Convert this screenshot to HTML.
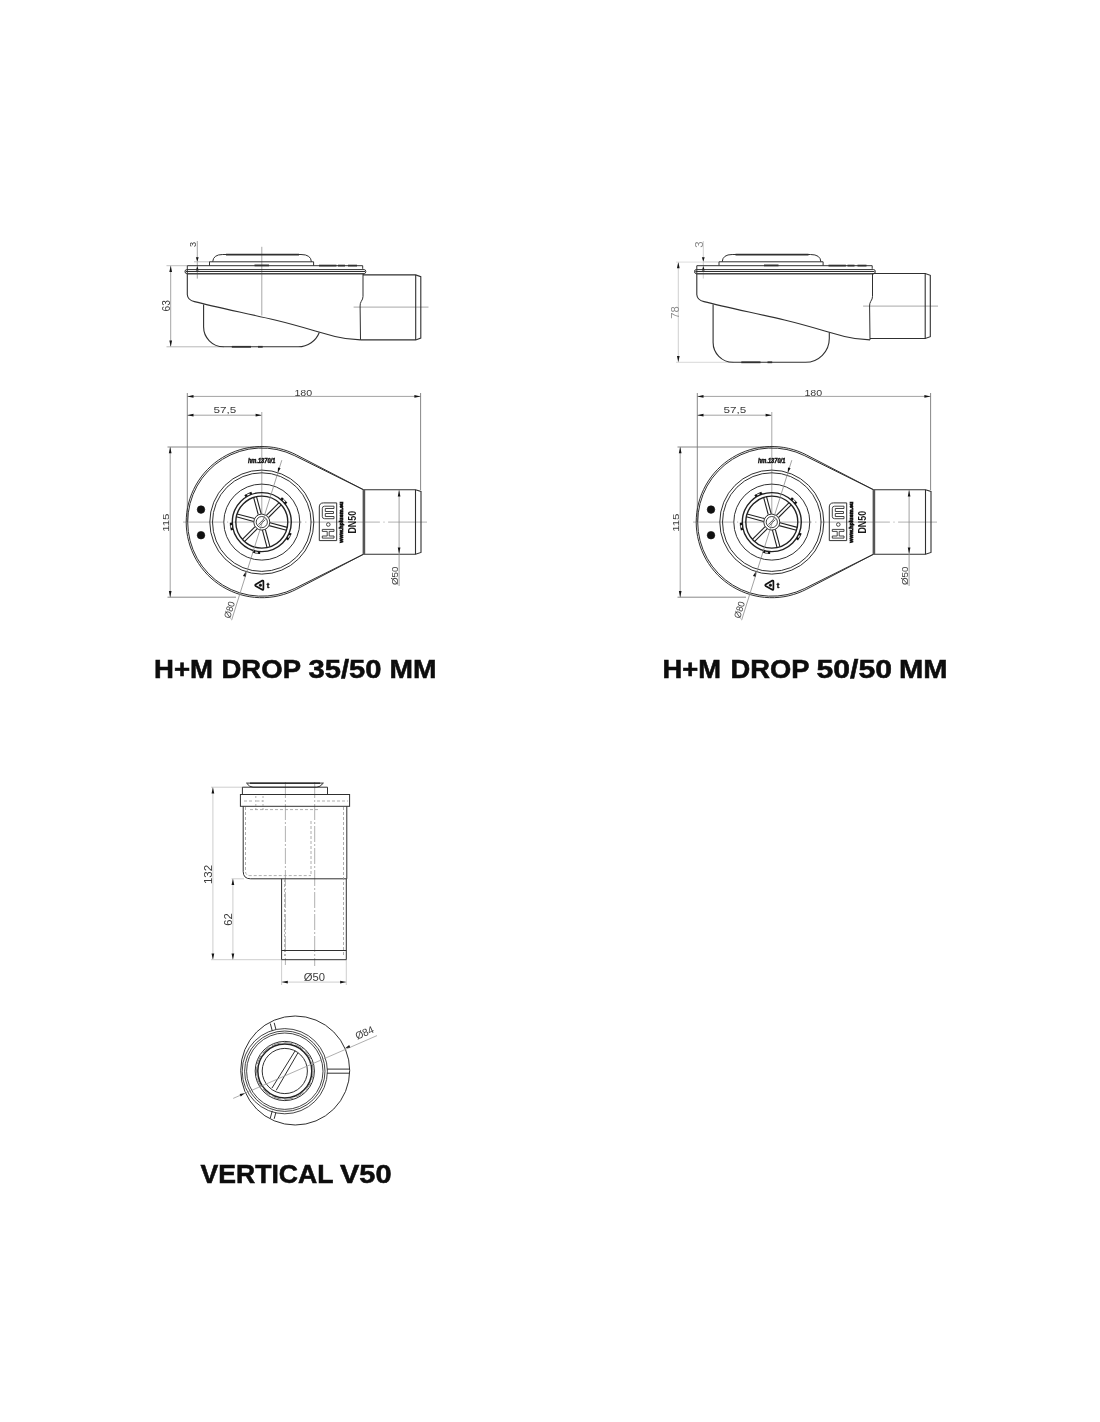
<!DOCTYPE html>
<html><head><meta charset="utf-8"><title>H+M Drop</title>
<style>html,body{margin:0;padding:0;background:#fff;} svg{display:block;filter:grayscale(1);}</style></head>
<body><svg width="1100" height="1422" viewBox="0 0 1100 1422">
<rect width="1100" height="1422" fill="#fff"/>
<line x1="170.70" y1="265.70" x2="170.70" y2="346.80" stroke="#8e8e8e" stroke-width="0.8"/>
<path d="M170.70,265.70 L172.05,271.90 L169.35,271.90Z" fill="#151515" stroke="none"/>
<path d="M170.70,346.80 L169.35,340.60 L172.05,340.60Z" fill="#151515" stroke="none"/>
<line x1="166.50" y1="265.70" x2="187.00" y2="265.70" stroke="#b0b0b0" stroke-width="0.8"/>
<line x1="166.50" y1="346.80" x2="224.00" y2="346.80" stroke="#b0b0b0" stroke-width="0.9"/>
<text x="169.70" y="305.85" font-family='"Liberation Sans", sans-serif' font-size="10.205999999999953" font-weight="normal" font-style="normal" fill="#3c3c3c" text-anchor="middle" transform="rotate(-90 169.70 305.85)">63</text>
<line x1="197.30" y1="241.00" x2="197.30" y2="278.60" stroke="#8e8e8e" stroke-width="0.8"/>
<path d="M197.30,261.80 L195.90,257.30 L198.70,257.30Z" fill="#151515" stroke="none"/>
<path d="M197.30,265.90 L198.70,270.40 L195.90,270.40Z" fill="#151515" stroke="none"/>
<line x1="194.00" y1="261.80" x2="210.00" y2="261.80" stroke="#b0b0b0" stroke-width="0.8"/>
<text x="196.45" y="244.55" font-family='"Liberation Sans", sans-serif' font-size="9.117585937499937" font-weight="normal" font-style="normal" fill="#3c3c3c" text-anchor="middle" transform="rotate(-90 196.45 244.55)">3</text>
<line x1="261.80" y1="246.80" x2="261.80" y2="315.50" stroke="#a8a8a8" stroke-width="1.0"/>
<line x1="353.60" y1="307.10" x2="428.50" y2="307.10" stroke="#a8a8a8" stroke-width="1.0"/>
<path d="M187.3,274 V265.7 H362.7 V268.8" stroke="#303030" stroke-width="1.0" fill="none" />
<path d="M186.8,269.6 H364.2" stroke="#303030" stroke-width="1.0" fill="none" />
<path d="M185.8,271.5 H365" stroke="#303030" stroke-width="1.2" fill="none" />
<path d="M186.8,273.7 H364.2" stroke="#444" stroke-width="1.5" fill="none" />
<path d="M186.8,269.6 Q185,269.6 185,271.5 Q185,273.6 186.8,273.6" stroke="#303030" stroke-width="1.0" fill="none" />
<path d="M364.2,269.6 Q365.8,269.6 365.8,271.5 Q365.8,273.6 364.2,273.6" stroke="#303030" stroke-width="1.0" fill="none" />
<path d="M209.5,265.7 V261.8 H313.6 V265.7" stroke="#303030" stroke-width="1.0" fill="none" />
<path d="M212.7,261.8 Q213.2,254.5 222.7,254.5 H301 Q311,254.5 311.4,261.8" stroke="#303030" stroke-width="1.0" fill="none" />
<line x1="226.00" y1="254.60" x2="299.00" y2="254.60" stroke="#303030" stroke-width="1.8"/>
<line x1="319.00" y1="265.60" x2="336.40" y2="265.60" stroke="#303030" stroke-width="1.8"/>
<line x1="338.00" y1="265.60" x2="345.00" y2="265.60" stroke="#303030" stroke-width="1.8"/>
<line x1="348.00" y1="265.60" x2="357.00" y2="265.60" stroke="#303030" stroke-width="1.8"/>
<line x1="254.50" y1="265.40" x2="269.00" y2="265.40" stroke="#303030" stroke-width="1.8"/>
<path d="M187.3,274 V294.5 Q187.6,300.2 194.5,301.6 C215,307 245,313 275,320 C300,326 318,332 335,336.5 C345,339 352,339.8 360.5,339.9" stroke="#303030" stroke-width="1.1" fill="none" />
<path d="M203.6,304.4 V326.4 A20,20 0 0 0 223.6,346.8 H298.2 C308,346.8 316,340.8 319.3,332.5" stroke="#303030" stroke-width="1.1" fill="none" />
<line x1="231.80" y1="346.80" x2="251.00" y2="346.80" stroke="#303030" stroke-width="1.8"/>
<line x1="258.00" y1="346.80" x2="262.70" y2="346.80" stroke="#303030" stroke-width="1.8"/>
<path d="M363,274 V296.4 Q363,299 361.2,301.5 Q360,303.5 360.1,306 L360.5,339.9" stroke="#303030" stroke-width="1.0" fill="none" />
<path d="M363,274.9 H415.7 L420.8,276.7 V338.09999999999997 L415.7,339.9 H360.5" stroke="#303030" stroke-width="1.1" fill="none" />
<line x1="415.70" y1="274.90" x2="415.70" y2="339.90" stroke="#303030" stroke-width="1.1"/>
<line x1="678.30" y1="262.10" x2="678.30" y2="362.30" stroke="#c4c4c4" stroke-width="0.8"/>
<path d="M678.30,262.10 L679.65,268.30 L676.95,268.30Z" fill="#151515" stroke="none"/>
<path d="M678.30,362.30 L676.95,356.10 L679.65,356.10Z" fill="#151515" stroke="none"/>
<line x1="676.00" y1="262.10" x2="719.00" y2="262.10" stroke="#d4d4d4" stroke-width="0.8"/>
<line x1="676.00" y1="362.30" x2="733.50" y2="362.30" stroke="#d4d4d4" stroke-width="0.9"/>
<text x="678.60" y="312.50" font-family='"Liberation Sans", sans-serif' font-size="11.307351562500187" font-weight="normal" font-style="normal" fill="#8a8a8a" text-anchor="middle" transform="rotate(-90 678.60 312.50)">78</text>
<line x1="703.30" y1="241.00" x2="703.30" y2="278.60" stroke="#c4c4c4" stroke-width="0.8"/>
<path d="M703.30,261.80 L701.90,257.30 L704.70,257.30Z" fill="#151515" stroke="none"/>
<path d="M703.30,265.90 L704.70,270.40 L701.90,270.40Z" fill="#151515" stroke="none"/>
<line x1="703.50" y1="261.80" x2="719.50" y2="261.80" stroke="#d4d4d4" stroke-width="0.8"/>
<text x="702.90" y="244.60" font-family='"Liberation Sans", sans-serif' font-size="11.486833333333523" font-weight="normal" font-style="normal" fill="#8a8a8a" text-anchor="middle" transform="rotate(-90 702.90 244.60)">3</text>
<line x1="863.10" y1="306.10" x2="938.00" y2="306.10" stroke="#a8a8a8" stroke-width="1.0"/>
<path d="M696.8,274 V265.7 H872.2 V268.8" stroke="#303030" stroke-width="1.0" fill="none" />
<path d="M696.3,269.6 H873.7" stroke="#303030" stroke-width="1.0" fill="none" />
<path d="M695.3,271.5 H874.5" stroke="#303030" stroke-width="1.2" fill="none" />
<path d="M696.3,273.7 H873.7" stroke="#444" stroke-width="1.5" fill="none" />
<path d="M696.3,269.6 Q694.5,269.6 694.5,271.5 Q694.5,273.6 696.3,273.6" stroke="#303030" stroke-width="1.0" fill="none" />
<path d="M873.7,269.6 Q875.3,269.6 875.3,271.5 Q875.3,273.6 873.7,273.6" stroke="#303030" stroke-width="1.0" fill="none" />
<path d="M719.0,265.7 V261.8 H823.1 V265.7" stroke="#303030" stroke-width="1.0" fill="none" />
<path d="M722.2,261.8 Q722.7,254.5 732.2,254.5 H810.5 Q820.5,254.5 820.9,261.8" stroke="#303030" stroke-width="1.0" fill="none" />
<line x1="735.50" y1="254.60" x2="808.50" y2="254.60" stroke="#303030" stroke-width="1.8"/>
<line x1="828.50" y1="265.60" x2="845.90" y2="265.60" stroke="#303030" stroke-width="1.8"/>
<line x1="847.50" y1="265.60" x2="854.50" y2="265.60" stroke="#303030" stroke-width="1.8"/>
<line x1="857.50" y1="265.60" x2="866.50" y2="265.60" stroke="#303030" stroke-width="1.8"/>
<line x1="764.00" y1="265.40" x2="778.50" y2="265.40" stroke="#303030" stroke-width="1.8"/>
<path d="M696.8,274 V294.5 Q697.1,300.2 704.0,301.6 C724.5,307 754.5,313 784.5,320 C809.5,326 827.5,332 844.5,336.5 C854.5,339 861.5,339.8 870.0,339.9" stroke="#303030" stroke-width="1.1" fill="none" />
<path d="M713.1,304.4 V341.9 A20,20 0 0 0 733.1,362.3 H805.5 A23.8,23.8 0 0 0 829.3,338.5 V332.5" stroke="#303030" stroke-width="1.1" fill="none" />
<line x1="741.30" y1="362.30" x2="760.50" y2="362.30" stroke="#303030" stroke-width="1.8"/>
<line x1="767.50" y1="362.30" x2="772.20" y2="362.30" stroke="#303030" stroke-width="1.8"/>
<path d="M872.5,274 V296.4 Q872.5,299 870.7,301.5 Q869.5,303.5 869.6,306 L870.0,339.9" stroke="#303030" stroke-width="1.0" fill="none" />
<path d="M872.5,273.5 H925.2 L930.3,275.3 V336.7 L925.2,338.5 H870.0" stroke="#303030" stroke-width="1.1" fill="none" />
<line x1="925.20" y1="273.50" x2="925.20" y2="338.50" stroke="#303030" stroke-width="1.1"/>
<line x1="187.30" y1="393.00" x2="187.30" y2="522.00" stroke="#7a7a7a" stroke-width="0.9"/>
<line x1="420.60" y1="393.00" x2="420.60" y2="490.00" stroke="#7a7a7a" stroke-width="0.9"/>
<line x1="187.30" y1="396.40" x2="420.60" y2="396.40" stroke="#8a8a8a" stroke-width="0.8"/>
<path d="M187.30,396.40 L193.50,395.05 L193.50,397.75Z" fill="#151515" stroke="none"/>
<path d="M420.60,396.40 L414.40,397.75 L414.40,395.05Z" fill="#151515" stroke="none"/>
<text x="303.35" y="395.85" font-family='"Liberation Sans", sans-serif' font-size="9.984" font-weight="normal" font-style="normal" fill="#3c3c3c" text-anchor="middle" textLength="17.807238064236216" lengthAdjust="spacingAndGlyphs">180</text>
<line x1="187.30" y1="415.20" x2="261.80" y2="415.20" stroke="#8a8a8a" stroke-width="0.8"/>
<path d="M187.30,415.20 L193.50,413.85 L193.50,416.55Z" fill="#151515" stroke="none"/>
<path d="M261.80,415.20 L255.60,416.55 L255.60,413.85Z" fill="#151515" stroke="none"/>
<line x1="261.80" y1="412.00" x2="261.80" y2="515.00" stroke="#a8a8a8" stroke-width="1.0"/>
<text x="225.00" y="413.10" font-family='"Liberation Sans", sans-serif' font-size="9.984" font-weight="normal" font-style="normal" fill="#3c3c3c" text-anchor="middle" textLength="22.79456459330149" lengthAdjust="spacingAndGlyphs">57,5</text>
<line x1="167.50" y1="447.00" x2="261.80" y2="447.00" stroke="#7a7a7a" stroke-width="0.9"/>
<line x1="167.50" y1="597.20" x2="236.00" y2="597.20" stroke="#7a7a7a" stroke-width="0.9"/>
<line x1="170.20" y1="447.00" x2="170.20" y2="597.20" stroke="#8a8a8a" stroke-width="0.8"/>
<path d="M170.20,447.00 L171.55,453.20 L168.85,453.20Z" fill="#151515" stroke="none"/>
<path d="M170.20,597.20 L168.85,591.00 L171.55,591.00Z" fill="#151515" stroke="none"/>
<text x="169.40" y="522.70" font-family='"Liberation Sans", sans-serif' font-size="9.331199999999956" font-weight="normal" font-style="normal" fill="#3c3c3c" text-anchor="middle" transform="rotate(-90 169.40 522.70)" textLength="18.29180653594749" lengthAdjust="spacingAndGlyphs">115</text>
<line x1="183" y1="522.1" x2="427" y2="522.1" stroke="#a8a8a8" stroke-width="0.9" stroke-dasharray="70 3.5 1.2 3.5" stroke-dashoffset="29.5"/>
<path d="M363.60,489.80 L296.66,455.02 A75.6,75.6 0 1 0 296.82,589.10 L363.60,554.20" stroke="#303030" stroke-width="1.0" fill="none" />
<path d="M363.60,489.80 L294.67,455.69 A74.1,74.1 0 1 0 294.82,588.44 L363.60,554.20" stroke="#303030" stroke-width="1.0" fill="none" />
<circle cx="261.80" cy="522.10" r="52.00" stroke="#303030" stroke-width="1.0" fill="none"/>
<circle cx="261.80" cy="522.10" r="49.30" stroke="#303030" stroke-width="1.0" fill="none"/>
<circle cx="261.80" cy="522.10" r="38.00" stroke="#303030" stroke-width="1.0" fill="none"/>
<circle cx="261.80" cy="522.10" r="29.50" stroke="#222" stroke-width="1.4" fill="none"/>
<circle cx="261.80" cy="522.10" r="26.00" stroke="#222" stroke-width="1.4" fill="none"/>
<path d="M245.03,496.27 A30.8,30.8 0 0 1 247.10,495.03" stroke="#111" stroke-width="2.4" fill="none"/>
<path d="M249.52,493.85 A30.8,30.8 0 0 1 251.77,492.98" stroke="#111" stroke-width="2.4" fill="none"/>
<path d="M246.72,494.33 A31.6,31.6 0 0 1 249.20,493.12" stroke="#222" stroke-width="0.9" fill="none"/>
<path d="M281.18,498.16 A30.8,30.8 0 0 1 283.00,499.76" stroke="#111" stroke-width="2.4" fill="none"/>
<path d="M284.87,501.69 A30.8,30.8 0 0 1 286.40,503.56" stroke="#111" stroke-width="2.4" fill="none"/>
<path d="M283.55,499.18 A31.6,31.6 0 0 1 285.47,501.16" stroke="#222" stroke-width="0.9" fill="none"/>
<path d="M290.55,533.14 A30.8,30.8 0 0 1 289.60,535.36" stroke="#111" stroke-width="2.4" fill="none"/>
<path d="M288.34,537.73 A30.8,30.8 0 0 1 287.03,539.77" stroke="#111" stroke-width="2.4" fill="none"/>
<path d="M290.32,535.70 A31.6,31.6 0 0 1 289.03,538.14" stroke="#222" stroke-width="0.9" fill="none"/>
<path d="M260.19,552.86 A30.8,30.8 0 0 1 257.78,552.64" stroke="#111" stroke-width="2.4" fill="none"/>
<path d="M255.13,552.17 A30.8,30.8 0 0 1 252.79,551.55" stroke="#111" stroke-width="2.4" fill="none"/>
<path d="M257.68,553.43 A31.6,31.6 0 0 1 254.96,552.95" stroke="#222" stroke-width="0.9" fill="none"/>
<path d="M232.05,530.07 A30.8,30.8 0 0 1 231.52,527.71" stroke="#111" stroke-width="2.4" fill="none"/>
<path d="M231.14,525.05 A30.8,30.8 0 0 1 231.00,522.64" stroke="#111" stroke-width="2.4" fill="none"/>
<path d="M230.73,527.86 A31.6,31.6 0 0 1 230.35,525.13" stroke="#222" stroke-width="0.9" fill="none"/>
<line x1="253.68" y1="521.48" x2="236.30" y2="516.82" stroke="#222" stroke-width="1.1"/>
<line x1="254.46" y1="518.58" x2="237.07" y2="513.92" stroke="#222" stroke-width="1.1"/>
<line x1="258.28" y1="514.76" x2="253.62" y2="497.37" stroke="#222" stroke-width="1.1"/>
<line x1="261.18" y1="513.98" x2="256.52" y2="496.60" stroke="#222" stroke-width="1.1"/>
<line x1="266.40" y1="515.38" x2="279.12" y2="502.65" stroke="#222" stroke-width="1.1"/>
<line x1="268.52" y1="517.50" x2="281.25" y2="504.78" stroke="#222" stroke-width="1.1"/>
<line x1="269.92" y1="522.72" x2="287.30" y2="527.38" stroke="#222" stroke-width="1.1"/>
<line x1="269.14" y1="525.62" x2="286.53" y2="530.28" stroke="#222" stroke-width="1.1"/>
<line x1="265.32" y1="529.44" x2="269.98" y2="546.83" stroke="#222" stroke-width="1.1"/>
<line x1="262.42" y1="530.22" x2="267.08" y2="547.60" stroke="#222" stroke-width="1.1"/>
<line x1="257.20" y1="528.82" x2="244.48" y2="541.55" stroke="#222" stroke-width="1.1"/>
<line x1="255.08" y1="526.70" x2="242.35" y2="539.42" stroke="#222" stroke-width="1.1"/>
<circle cx="261.80" cy="522.10" r="8.00" stroke="#303030" stroke-width="1.0" fill="#fff"/>
<circle cx="261.80" cy="522.10" r="5.60" stroke="#303030" stroke-width="0.9" fill="none"/>
<line x1="258.30" y1="524.60" x2="264.30" y2="518.60" stroke="#303030" stroke-width="0.8"/>
<line x1="259.30" y1="525.60" x2="265.30" y2="519.60" stroke="#303030" stroke-width="0.8"/>
<circle cx="201.00" cy="509.60" r="3.80" stroke="#111" stroke-width="0.6" fill="#111"/>
<circle cx="201.00" cy="535.20" r="3.80" stroke="#111" stroke-width="0.6" fill="#111"/>
<line x1="231.60" y1="620.20" x2="281.80" y2="460.20" stroke="#8a8a8a" stroke-width="0.8"/>
<path d="M277.78,472.62 L277.99,467.43 L280.65,468.29Z" fill="#151515" stroke="none"/>
<path d="M245.82,571.58 L245.61,576.77 L242.95,575.91Z" fill="#151515" stroke="none"/>
<text x="232.55" y="610.80" font-family='"Liberation Sans", sans-serif' font-size="9.5" font-weight="normal" font-style="normal" fill="#3c3c3c" text-anchor="middle" transform="rotate(-72.1 232.55 610.80)" textLength="17.0" lengthAdjust="spacingAndGlyphs">&#216;80</text>
<text x="261.60" y="462.9" font-family='"Liberation Sans", sans-serif' font-size="6.6" font-weight="bold" font-style="italic" fill="#111" stroke="#111" stroke-width="0.45" text-anchor="middle" textLength="27.4" lengthAdjust="spacingAndGlyphs">hm.1370/1</text>
<path d="M255.60000000000002,584.4000000000001 Q254.8,585.2 255.60000000000002,586.0 L262.40000000000003,589.8000000000001 Q263.40000000000003,590.2 263.40000000000003,589.1 V581.3000000000001 Q263.40000000000003,580.2 262.40000000000003,580.6 Z" stroke="#111" stroke-width="1.7" fill="none" stroke-linejoin="round"/>
<circle cx="260.40" cy="585.20" r="1.30" stroke="#111" stroke-width="0.5" fill="#111"/>
<text x="267.90" y="588.00" font-family='"Liberation Sans", sans-serif' font-size="7.6" font-weight="bold" fill="#111" stroke="#111" stroke-width="0.4" text-anchor="middle">t</text>
<path d="M363.6,489.8 H415.5 L421,491.5 V552.4 L415.5,554.2 H363.6" stroke="#303030" stroke-width="1.1" fill="none" />
<line x1="415.50" y1="489.80" x2="415.50" y2="554.20" stroke="#303030" stroke-width="1.1"/>
<line x1="363.90" y1="489.80" x2="363.90" y2="554.20" stroke="#555" stroke-width="2.6"/>
<line x1="399.10" y1="490.00" x2="399.10" y2="586.00" stroke="#8a8a8a" stroke-width="0.8"/>
<path d="M399.10,490.20 L400.45,496.40 L397.75,496.40Z" fill="#151515" stroke="none"/>
<path d="M399.10,553.80 L397.75,547.60 L400.45,547.60Z" fill="#151515" stroke="none"/>
<text x="397.60" y="575.75" font-family='"Liberation Sans", sans-serif' font-size="8.708758017492755" font-weight="normal" font-style="normal" fill="#3c3c3c" text-anchor="middle" transform="rotate(-90 397.60 575.75)" textLength="18.487313907044296" lengthAdjust="spacingAndGlyphs">&#216;50</text>
<path d="M336.7,502.9 H323.5 Q319.3,502.9 319.3,507 V540.6 H336.7 Z" stroke="#333" stroke-width="1.0" fill="none" />
<path d="M334,506.2 H324.5 Q322.3,506.2 322.3,508.5 V516.5 Q322.3,518.7 324.5,518.7 H334 V516.5 H325.3 V513.5 H333.5 V511.5 H325.3 V508.5 H334 Z" stroke="#333" stroke-width="0.9" fill="none" />
<circle cx="328.30" cy="524.50" r="1.80" stroke="#333" stroke-width="0.9" fill="none"/>
<path d="M334,529.4 H322.3 V531.4 H327.2 V536 H322.3 V538.1 H334 V536 H329.2 V531.4 H334 Z" stroke="#333" stroke-width="0.9" fill="none" />
<text x="343.30" y="522.2" font-family='"Liberation Sans", sans-serif' font-size="5.4" font-weight="bold" fill="#111" stroke="#111" stroke-width="0.7" text-anchor="middle" transform="rotate(-90 343.30 522.2)" textLength="41" lengthAdjust="spacingAndGlyphs">www.hplusm.eu</text>
<text x="356.20" y="522.20" font-family='"Liberation Sans", sans-serif' font-size="10.2" font-weight="bold" font-style="normal" fill="#1a1a1a" text-anchor="middle" transform="rotate(-90 356.20 522.20)" textLength="22.8" lengthAdjust="spacingAndGlyphs">DN50</text>
<line x1="697.30" y1="393.00" x2="697.30" y2="522.00" stroke="#7a7a7a" stroke-width="0.9"/>
<line x1="930.60" y1="393.00" x2="930.60" y2="490.00" stroke="#7a7a7a" stroke-width="0.9"/>
<line x1="697.30" y1="396.40" x2="930.60" y2="396.40" stroke="#8a8a8a" stroke-width="0.8"/>
<path d="M697.30,396.40 L703.50,395.05 L703.50,397.75Z" fill="#151515" stroke="none"/>
<path d="M930.60,396.40 L924.40,397.75 L924.40,395.05Z" fill="#151515" stroke="none"/>
<text x="813.35" y="395.85" font-family='"Liberation Sans", sans-serif' font-size="9.984" font-weight="normal" font-style="normal" fill="#3c3c3c" text-anchor="middle" textLength="17.807238064236216" lengthAdjust="spacingAndGlyphs">180</text>
<line x1="697.30" y1="415.20" x2="771.80" y2="415.20" stroke="#8a8a8a" stroke-width="0.8"/>
<path d="M697.30,415.20 L703.50,413.85 L703.50,416.55Z" fill="#151515" stroke="none"/>
<path d="M771.80,415.20 L765.60,416.55 L765.60,413.85Z" fill="#151515" stroke="none"/>
<line x1="771.80" y1="412.00" x2="771.80" y2="515.00" stroke="#a8a8a8" stroke-width="1.0"/>
<text x="735.00" y="413.10" font-family='"Liberation Sans", sans-serif' font-size="9.984" font-weight="normal" font-style="normal" fill="#3c3c3c" text-anchor="middle" textLength="22.79456459330149" lengthAdjust="spacingAndGlyphs">57,5</text>
<line x1="677.50" y1="447.00" x2="771.80" y2="447.00" stroke="#7a7a7a" stroke-width="0.9"/>
<line x1="677.50" y1="597.20" x2="746.00" y2="597.20" stroke="#7a7a7a" stroke-width="0.9"/>
<line x1="680.20" y1="447.00" x2="680.20" y2="597.20" stroke="#8a8a8a" stroke-width="0.8"/>
<path d="M680.20,447.00 L681.55,453.20 L678.85,453.20Z" fill="#151515" stroke="none"/>
<path d="M680.20,597.20 L678.85,591.00 L681.55,591.00Z" fill="#151515" stroke="none"/>
<text x="679.40" y="522.70" font-family='"Liberation Sans", sans-serif' font-size="9.331199999999956" font-weight="normal" font-style="normal" fill="#3c3c3c" text-anchor="middle" transform="rotate(-90 679.40 522.70)" textLength="18.29180653594749" lengthAdjust="spacingAndGlyphs">115</text>
<line x1="693" y1="522.1" x2="937" y2="522.1" stroke="#a8a8a8" stroke-width="0.9" stroke-dasharray="70 3.5 1.2 3.5" stroke-dashoffset="29.5"/>
<path d="M873.60,489.80 L806.66,455.02 A75.6,75.6 0 1 0 806.82,589.10 L873.60,554.20" stroke="#303030" stroke-width="1.0" fill="none" />
<path d="M873.60,489.80 L804.67,455.69 A74.1,74.1 0 1 0 804.82,588.44 L873.60,554.20" stroke="#303030" stroke-width="1.0" fill="none" />
<circle cx="771.80" cy="522.10" r="52.00" stroke="#303030" stroke-width="1.0" fill="none"/>
<circle cx="771.80" cy="522.10" r="49.30" stroke="#303030" stroke-width="1.0" fill="none"/>
<circle cx="771.80" cy="522.10" r="38.00" stroke="#303030" stroke-width="1.0" fill="none"/>
<circle cx="771.80" cy="522.10" r="29.50" stroke="#222" stroke-width="1.4" fill="none"/>
<circle cx="771.80" cy="522.10" r="26.00" stroke="#222" stroke-width="1.4" fill="none"/>
<path d="M755.03,496.27 A30.8,30.8 0 0 1 757.10,495.03" stroke="#111" stroke-width="2.4" fill="none"/>
<path d="M759.52,493.85 A30.8,30.8 0 0 1 761.77,492.98" stroke="#111" stroke-width="2.4" fill="none"/>
<path d="M756.72,494.33 A31.6,31.6 0 0 1 759.20,493.12" stroke="#222" stroke-width="0.9" fill="none"/>
<path d="M791.18,498.16 A30.8,30.8 0 0 1 793.00,499.76" stroke="#111" stroke-width="2.4" fill="none"/>
<path d="M794.87,501.69 A30.8,30.8 0 0 1 796.40,503.56" stroke="#111" stroke-width="2.4" fill="none"/>
<path d="M793.55,499.18 A31.6,31.6 0 0 1 795.47,501.16" stroke="#222" stroke-width="0.9" fill="none"/>
<path d="M800.55,533.14 A30.8,30.8 0 0 1 799.60,535.36" stroke="#111" stroke-width="2.4" fill="none"/>
<path d="M798.34,537.73 A30.8,30.8 0 0 1 797.03,539.77" stroke="#111" stroke-width="2.4" fill="none"/>
<path d="M800.32,535.70 A31.6,31.6 0 0 1 799.03,538.14" stroke="#222" stroke-width="0.9" fill="none"/>
<path d="M770.19,552.86 A30.8,30.8 0 0 1 767.78,552.64" stroke="#111" stroke-width="2.4" fill="none"/>
<path d="M765.13,552.17 A30.8,30.8 0 0 1 762.79,551.55" stroke="#111" stroke-width="2.4" fill="none"/>
<path d="M767.68,553.43 A31.6,31.6 0 0 1 764.96,552.95" stroke="#222" stroke-width="0.9" fill="none"/>
<path d="M742.05,530.07 A30.8,30.8 0 0 1 741.52,527.71" stroke="#111" stroke-width="2.4" fill="none"/>
<path d="M741.14,525.05 A30.8,30.8 0 0 1 741.00,522.64" stroke="#111" stroke-width="2.4" fill="none"/>
<path d="M740.73,527.86 A31.6,31.6 0 0 1 740.35,525.13" stroke="#222" stroke-width="0.9" fill="none"/>
<line x1="763.68" y1="521.48" x2="746.30" y2="516.82" stroke="#222" stroke-width="1.1"/>
<line x1="764.46" y1="518.58" x2="747.07" y2="513.92" stroke="#222" stroke-width="1.1"/>
<line x1="768.28" y1="514.76" x2="763.62" y2="497.37" stroke="#222" stroke-width="1.1"/>
<line x1="771.18" y1="513.98" x2="766.52" y2="496.60" stroke="#222" stroke-width="1.1"/>
<line x1="776.40" y1="515.38" x2="789.12" y2="502.65" stroke="#222" stroke-width="1.1"/>
<line x1="778.52" y1="517.50" x2="791.25" y2="504.78" stroke="#222" stroke-width="1.1"/>
<line x1="779.92" y1="522.72" x2="797.30" y2="527.38" stroke="#222" stroke-width="1.1"/>
<line x1="779.14" y1="525.62" x2="796.53" y2="530.28" stroke="#222" stroke-width="1.1"/>
<line x1="775.32" y1="529.44" x2="779.98" y2="546.83" stroke="#222" stroke-width="1.1"/>
<line x1="772.42" y1="530.22" x2="777.08" y2="547.60" stroke="#222" stroke-width="1.1"/>
<line x1="767.20" y1="528.82" x2="754.48" y2="541.55" stroke="#222" stroke-width="1.1"/>
<line x1="765.08" y1="526.70" x2="752.35" y2="539.42" stroke="#222" stroke-width="1.1"/>
<circle cx="771.80" cy="522.10" r="8.00" stroke="#303030" stroke-width="1.0" fill="#fff"/>
<circle cx="771.80" cy="522.10" r="5.60" stroke="#303030" stroke-width="0.9" fill="none"/>
<line x1="768.30" y1="524.60" x2="774.30" y2="518.60" stroke="#303030" stroke-width="0.8"/>
<line x1="769.30" y1="525.60" x2="775.30" y2="519.60" stroke="#303030" stroke-width="0.8"/>
<circle cx="711.00" cy="509.60" r="3.80" stroke="#111" stroke-width="0.6" fill="#111"/>
<circle cx="711.00" cy="535.20" r="3.80" stroke="#111" stroke-width="0.6" fill="#111"/>
<line x1="741.60" y1="620.20" x2="791.80" y2="460.20" stroke="#8a8a8a" stroke-width="0.8"/>
<path d="M787.78,472.62 L787.99,467.43 L790.65,468.29Z" fill="#151515" stroke="none"/>
<path d="M755.82,571.58 L755.61,576.77 L752.95,575.91Z" fill="#151515" stroke="none"/>
<text x="742.55" y="610.80" font-family='"Liberation Sans", sans-serif' font-size="9.5" font-weight="normal" font-style="normal" fill="#3c3c3c" text-anchor="middle" transform="rotate(-72.1 742.55 610.80)" textLength="17.0" lengthAdjust="spacingAndGlyphs">&#216;80</text>
<text x="771.60" y="462.9" font-family='"Liberation Sans", sans-serif' font-size="6.6" font-weight="bold" font-style="italic" fill="#111" stroke="#111" stroke-width="0.45" text-anchor="middle" textLength="27.4" lengthAdjust="spacingAndGlyphs">hm.1370/1</text>
<path d="M765.5999999999999,584.4000000000001 Q764.8,585.2 765.5999999999999,586.0 L772.4,589.8000000000001 Q773.4,590.2 773.4,589.1 V581.3000000000001 Q773.4,580.2 772.4,580.6 Z" stroke="#111" stroke-width="1.7" fill="none" stroke-linejoin="round"/>
<circle cx="770.40" cy="585.20" r="1.30" stroke="#111" stroke-width="0.5" fill="#111"/>
<text x="777.90" y="588.00" font-family='"Liberation Sans", sans-serif' font-size="7.6" font-weight="bold" fill="#111" stroke="#111" stroke-width="0.4" text-anchor="middle">t</text>
<path d="M873.6,489.8 H925.5 L931,491.5 V552.4 L925.5,554.2 H873.6" stroke="#303030" stroke-width="1.1" fill="none" />
<line x1="925.50" y1="489.80" x2="925.50" y2="554.20" stroke="#303030" stroke-width="1.1"/>
<line x1="873.90" y1="489.80" x2="873.90" y2="554.20" stroke="#555" stroke-width="2.6"/>
<line x1="909.10" y1="490.00" x2="909.10" y2="586.00" stroke="#8a8a8a" stroke-width="0.8"/>
<path d="M909.10,490.20 L910.45,496.40 L907.75,496.40Z" fill="#151515" stroke="none"/>
<path d="M909.10,553.80 L907.75,547.60 L910.45,547.60Z" fill="#151515" stroke="none"/>
<text x="907.60" y="575.75" font-family='"Liberation Sans", sans-serif' font-size="8.708758017492755" font-weight="normal" font-style="normal" fill="#3c3c3c" text-anchor="middle" transform="rotate(-90 907.60 575.75)" textLength="18.487313907044296" lengthAdjust="spacingAndGlyphs">&#216;50</text>
<path d="M846.7,502.9 H833.5 Q829.3,502.9 829.3,507 V540.6 H846.7 Z" stroke="#333" stroke-width="1.0" fill="none" />
<path d="M844,506.2 H834.5 Q832.3,506.2 832.3,508.5 V516.5 Q832.3,518.7 834.5,518.7 H844 V516.5 H835.3 V513.5 H843.5 V511.5 H835.3 V508.5 H844 Z" stroke="#333" stroke-width="0.9" fill="none" />
<circle cx="838.30" cy="524.50" r="1.80" stroke="#333" stroke-width="0.9" fill="none"/>
<path d="M844,529.4 H832.3 V531.4 H837.2 V536 H832.3 V538.1 H844 V536 H839.2 V531.4 H844 Z" stroke="#333" stroke-width="0.9" fill="none" />
<text x="853.30" y="522.2" font-family='"Liberation Sans", sans-serif' font-size="5.4" font-weight="bold" fill="#111" stroke="#111" stroke-width="0.7" text-anchor="middle" transform="rotate(-90 853.30 522.2)" textLength="41" lengthAdjust="spacingAndGlyphs">www.hplusm.eu</text>
<text x="866.20" y="522.20" font-family='"Liberation Sans", sans-serif' font-size="10.2" font-weight="bold" font-style="normal" fill="#1a1a1a" text-anchor="middle" transform="rotate(-90 866.20 522.20)" textLength="22.8" lengthAdjust="spacingAndGlyphs">DN50</text>
<line x1="0.00" y1="0.00" x2="0.00" y2="0.00" stroke="#fff" stroke-width="0"/>
<line x1="211.00" y1="787.20" x2="242.40" y2="787.20" stroke="#c8c8c8" stroke-width="0.9"/>
<line x1="212.90" y1="787.20" x2="212.90" y2="959.70" stroke="#c2c2c2" stroke-width="0.8"/>
<path d="M212.90,787.20 L214.25,793.40 L211.55,793.40Z" fill="#151515" stroke="none"/>
<path d="M212.90,959.70 L211.55,953.50 L214.25,953.50Z" fill="#151515" stroke="none"/>
<line x1="211.00" y1="959.70" x2="281.60" y2="959.70" stroke="#c8c8c8" stroke-width="0.9"/>
<text x="212.10" y="874.45" font-family='"Liberation Sans", sans-serif' font-size="10.5" font-weight="normal" font-style="normal" fill="#3c3c3c" text-anchor="middle" transform="rotate(-90 212.10 874.45)" textLength="19.156262765522875" lengthAdjust="spacingAndGlyphs">132</text>
<line x1="231.50" y1="878.80" x2="244.00" y2="878.80" stroke="#c8c8c8" stroke-width="0.9"/>
<line x1="232.90" y1="878.80" x2="232.90" y2="959.70" stroke="#c2c2c2" stroke-width="0.8"/>
<path d="M232.90,878.80 L234.25,885.00 L231.55,885.00Z" fill="#151515" stroke="none"/>
<path d="M232.90,959.70 L231.55,953.50 L234.25,953.50Z" fill="#151515" stroke="none"/>
<text x="232.15" y="919.45" font-family='"Liberation Sans", sans-serif' font-size="10.5" font-weight="normal" font-style="normal" fill="#3c3c3c" text-anchor="middle" transform="rotate(-90 232.15 919.45)" textLength="12.569214876033058" lengthAdjust="spacingAndGlyphs">62</text>
<line x1="281.60" y1="960.00" x2="281.60" y2="985.00" stroke="#c8c8c8" stroke-width="0.9"/>
<line x1="346.30" y1="960.00" x2="346.30" y2="985.00" stroke="#c8c8c8" stroke-width="0.9"/>
<line x1="281.60" y1="982.10" x2="346.30" y2="982.10" stroke="#c2c2c2" stroke-width="0.8"/>
<path d="M281.60,982.10 L287.80,980.75 L287.80,983.45Z" fill="#151515" stroke="none"/>
<path d="M346.30,982.10 L340.10,983.45 L340.10,980.75Z" fill="#151515" stroke="none"/>
<text x="314.30" y="980.65" font-family='"Liberation Sans", sans-serif' font-size="10.5" font-weight="normal" font-style="normal" fill="#3c3c3c" text-anchor="middle" textLength="21.27735338345858" lengthAdjust="spacingAndGlyphs">&#216;50</text>
<line x1="285.40" y1="782.00" x2="285.40" y2="965.00" stroke="#a8a8a8" stroke-width="0.9" stroke-dasharray="16 2 2 2"/>
<line x1="314.70" y1="782.00" x2="314.70" y2="966.00" stroke="#a8a8a8" stroke-width="0.9" stroke-dasharray="16 2 2 2"/>
<path d="M246.5,783.1 H323.4 Q320,787.2 316.8,787.2 H253 Q249.5,787.2 246.5,783.1 Z" stroke="#303030" stroke-width="1.0" fill="none" />
<line x1="250.00" y1="783.30" x2="320.00" y2="783.30" stroke="#303030" stroke-width="1.6"/>
<path d="M242.4,794.5 V787.2 H327.5 V794.5" stroke="#303030" stroke-width="1.0" fill="none" />
<rect x="240.4" y="794.5" width="109.2" height="11.8" stroke="#303030" stroke-width="1.0" fill="none"/>
<path d="M243.2,806.3 V871.4 Q243.2,878.8 250.6,878.8 H346.8 V806.3" stroke="#303030" stroke-width="1.0" fill="none" />
<path d="M244,801 H254 M256.5,801 H263 M317,801 H348" stroke="#9a9a9a" stroke-width="0.8" fill="none" stroke-dasharray="3 2"/>
<path d="M250,809.6 H318" stroke="#9a9a9a" stroke-width="0.8" fill="none" stroke-dasharray="3 2"/>
<path d="M245.5,807 V872 Q246,875.6 250,875.6 H311" stroke="#9a9a9a" stroke-width="0.8" fill="none" stroke-dasharray="3 2"/>
<path d="M343.5,807 V956" stroke="#9a9a9a" stroke-width="0.8" fill="none" stroke-dasharray="3 2"/>
<path d="M311,821 V875" stroke="#9a9a9a" stroke-width="0.8" fill="none" stroke-dasharray="3 2"/>
<path d="M284.6,879 V956" stroke="#9a9a9a" stroke-width="0.8" fill="none" stroke-dasharray="3 2"/>
<path d="M255.8,796 V810 M263,796 V810" stroke="#9a9a9a" stroke-width="0.8" fill="none" stroke-dasharray="2 2"/>
<path d="M281.6,878.8 V959.7 H346.3 V878.8" stroke="#303030" stroke-width="1.0" fill="none" />
<line x1="281.60" y1="950.50" x2="346.30" y2="950.50" stroke="#303030" stroke-width="1.0"/>
<circle cx="295.20" cy="1070.50" r="54.50" stroke="#303030" stroke-width="1.0" fill="none"/>
<circle cx="284.80" cy="1071.20" r="42.60" stroke="#303030" stroke-width="0.9" fill="none"/>
<circle cx="284.80" cy="1071.20" r="40.20" stroke="#303030" stroke-width="0.9" fill="none"/>
<circle cx="284.80" cy="1071.20" r="38.20" stroke="#303030" stroke-width="0.9" fill="none"/>
<circle cx="284.80" cy="1071.00" r="29.60" stroke="#303030" stroke-width="1.0" fill="none"/>
<circle cx="284.80" cy="1071.00" r="27.00" stroke="#222" stroke-width="1.5" fill="none"/>
<circle cx="284.8" cy="1071.0" r="28.3" stroke="#888" stroke-width="1.0" fill="none" stroke-dasharray="9 3"/>
<circle cx="284.80" cy="1071.00" r="22.60" stroke="#303030" stroke-width="1.0" fill="none"/>
<line x1="272.00" y1="1088.00" x2="295.20" y2="1050.70" stroke="#303030" stroke-width="1.0"/>
<line x1="276.20" y1="1090.30" x2="298.00" y2="1052.70" stroke="#303030" stroke-width="1.0"/>
<line x1="270.30" y1="1023.50" x2="272.30" y2="1031.00" stroke="#303030" stroke-width="1.0"/>
<line x1="274.20" y1="1022.80" x2="276.00" y2="1029.80" stroke="#303030" stroke-width="1.0"/>
<line x1="270.30" y1="1118.00" x2="272.30" y2="1110.80" stroke="#303030" stroke-width="1.0"/>
<line x1="274.20" y1="1118.80" x2="276.00" y2="1112.00" stroke="#303030" stroke-width="1.0"/>
<line x1="327.00" y1="1069.10" x2="349.60" y2="1069.10" stroke="#303030" stroke-width="1.0"/>
<line x1="327.00" y1="1073.20" x2="349.60" y2="1073.20" stroke="#303030" stroke-width="1.0"/>
<line x1="233.20" y1="1098.40" x2="377.00" y2="1035.60" stroke="#9a9a9a" stroke-width="0.8"/>
<path d="M345.14,1048.17 L349.16,1044.88 L350.28,1047.45Z" fill="#151515" stroke="none"/>
<path d="M244.76,1093.33 L240.74,1096.62 L239.62,1094.05Z" fill="#151515" stroke="none"/>
<text x="365.85" y="1036.05" font-family='"Liberation Sans", sans-serif' font-size="10.5" font-weight="normal" font-style="normal" fill="#3c3c3c" text-anchor="middle" transform="rotate(-23.616658525705233 365.85 1036.05)" textLength="19.0" lengthAdjust="spacingAndGlyphs">&#216;84</text>
<text x="154.00" y="677.5" font-family='"Liberation Sans", sans-serif' font-size="26.5" font-weight="bold" fill="#0d0d0d" stroke="#0d0d0d" stroke-width="0.55" text-anchor="start" textLength="59.00" lengthAdjust="spacingAndGlyphs">H+M</text>
<text x="221.50" y="677.5" font-family='"Liberation Sans", sans-serif' font-size="26.5" font-weight="bold" fill="#0d0d0d" stroke="#0d0d0d" stroke-width="0.55" text-anchor="start" textLength="79.50" lengthAdjust="spacingAndGlyphs">DROP</text>
<text x="308.50" y="677.5" font-family='"Liberation Sans", sans-serif' font-size="26.5" font-weight="bold" fill="#0d0d0d" stroke="#0d0d0d" stroke-width="0.55" text-anchor="start" textLength="73.00" lengthAdjust="spacingAndGlyphs">35/50</text>
<text x="389.50" y="677.5" font-family='"Liberation Sans", sans-serif' font-size="26.5" font-weight="bold" fill="#0d0d0d" stroke="#0d0d0d" stroke-width="0.55" text-anchor="start" textLength="47.00" lengthAdjust="spacingAndGlyphs">MM</text>
<text x="662.50" y="677.5" font-family='"Liberation Sans", sans-serif' font-size="26.5" font-weight="bold" fill="#0d0d0d" stroke="#0d0d0d" stroke-width="0.55" text-anchor="start" textLength="58.50" lengthAdjust="spacingAndGlyphs">H+M</text>
<text x="730.50" y="677.5" font-family='"Liberation Sans", sans-serif' font-size="26.5" font-weight="bold" fill="#0d0d0d" stroke="#0d0d0d" stroke-width="0.55" text-anchor="start" textLength="79.00" lengthAdjust="spacingAndGlyphs">DROP</text>
<text x="816.50" y="677.5" font-family='"Liberation Sans", sans-serif' font-size="26.5" font-weight="bold" fill="#0d0d0d" stroke="#0d0d0d" stroke-width="0.55" text-anchor="start" textLength="75.50" lengthAdjust="spacingAndGlyphs">50/50</text>
<text x="899.00" y="677.5" font-family='"Liberation Sans", sans-serif' font-size="26.5" font-weight="bold" fill="#0d0d0d" stroke="#0d0d0d" stroke-width="0.55" text-anchor="start" textLength="48.50" lengthAdjust="spacingAndGlyphs">MM</text>
<text x="200.50" y="1182.8" font-family='"Liberation Sans", sans-serif' font-size="26.5" font-weight="bold" fill="#0d0d0d" stroke="#0d0d0d" stroke-width="0.55" text-anchor="start" textLength="133.00" lengthAdjust="spacingAndGlyphs">VERTICAL</text>
<text x="340.00" y="1182.8" font-family='"Liberation Sans", sans-serif' font-size="26.5" font-weight="bold" fill="#0d0d0d" stroke="#0d0d0d" stroke-width="0.55" text-anchor="start" textLength="51.50" lengthAdjust="spacingAndGlyphs">V50</text>
</svg></body></html>
